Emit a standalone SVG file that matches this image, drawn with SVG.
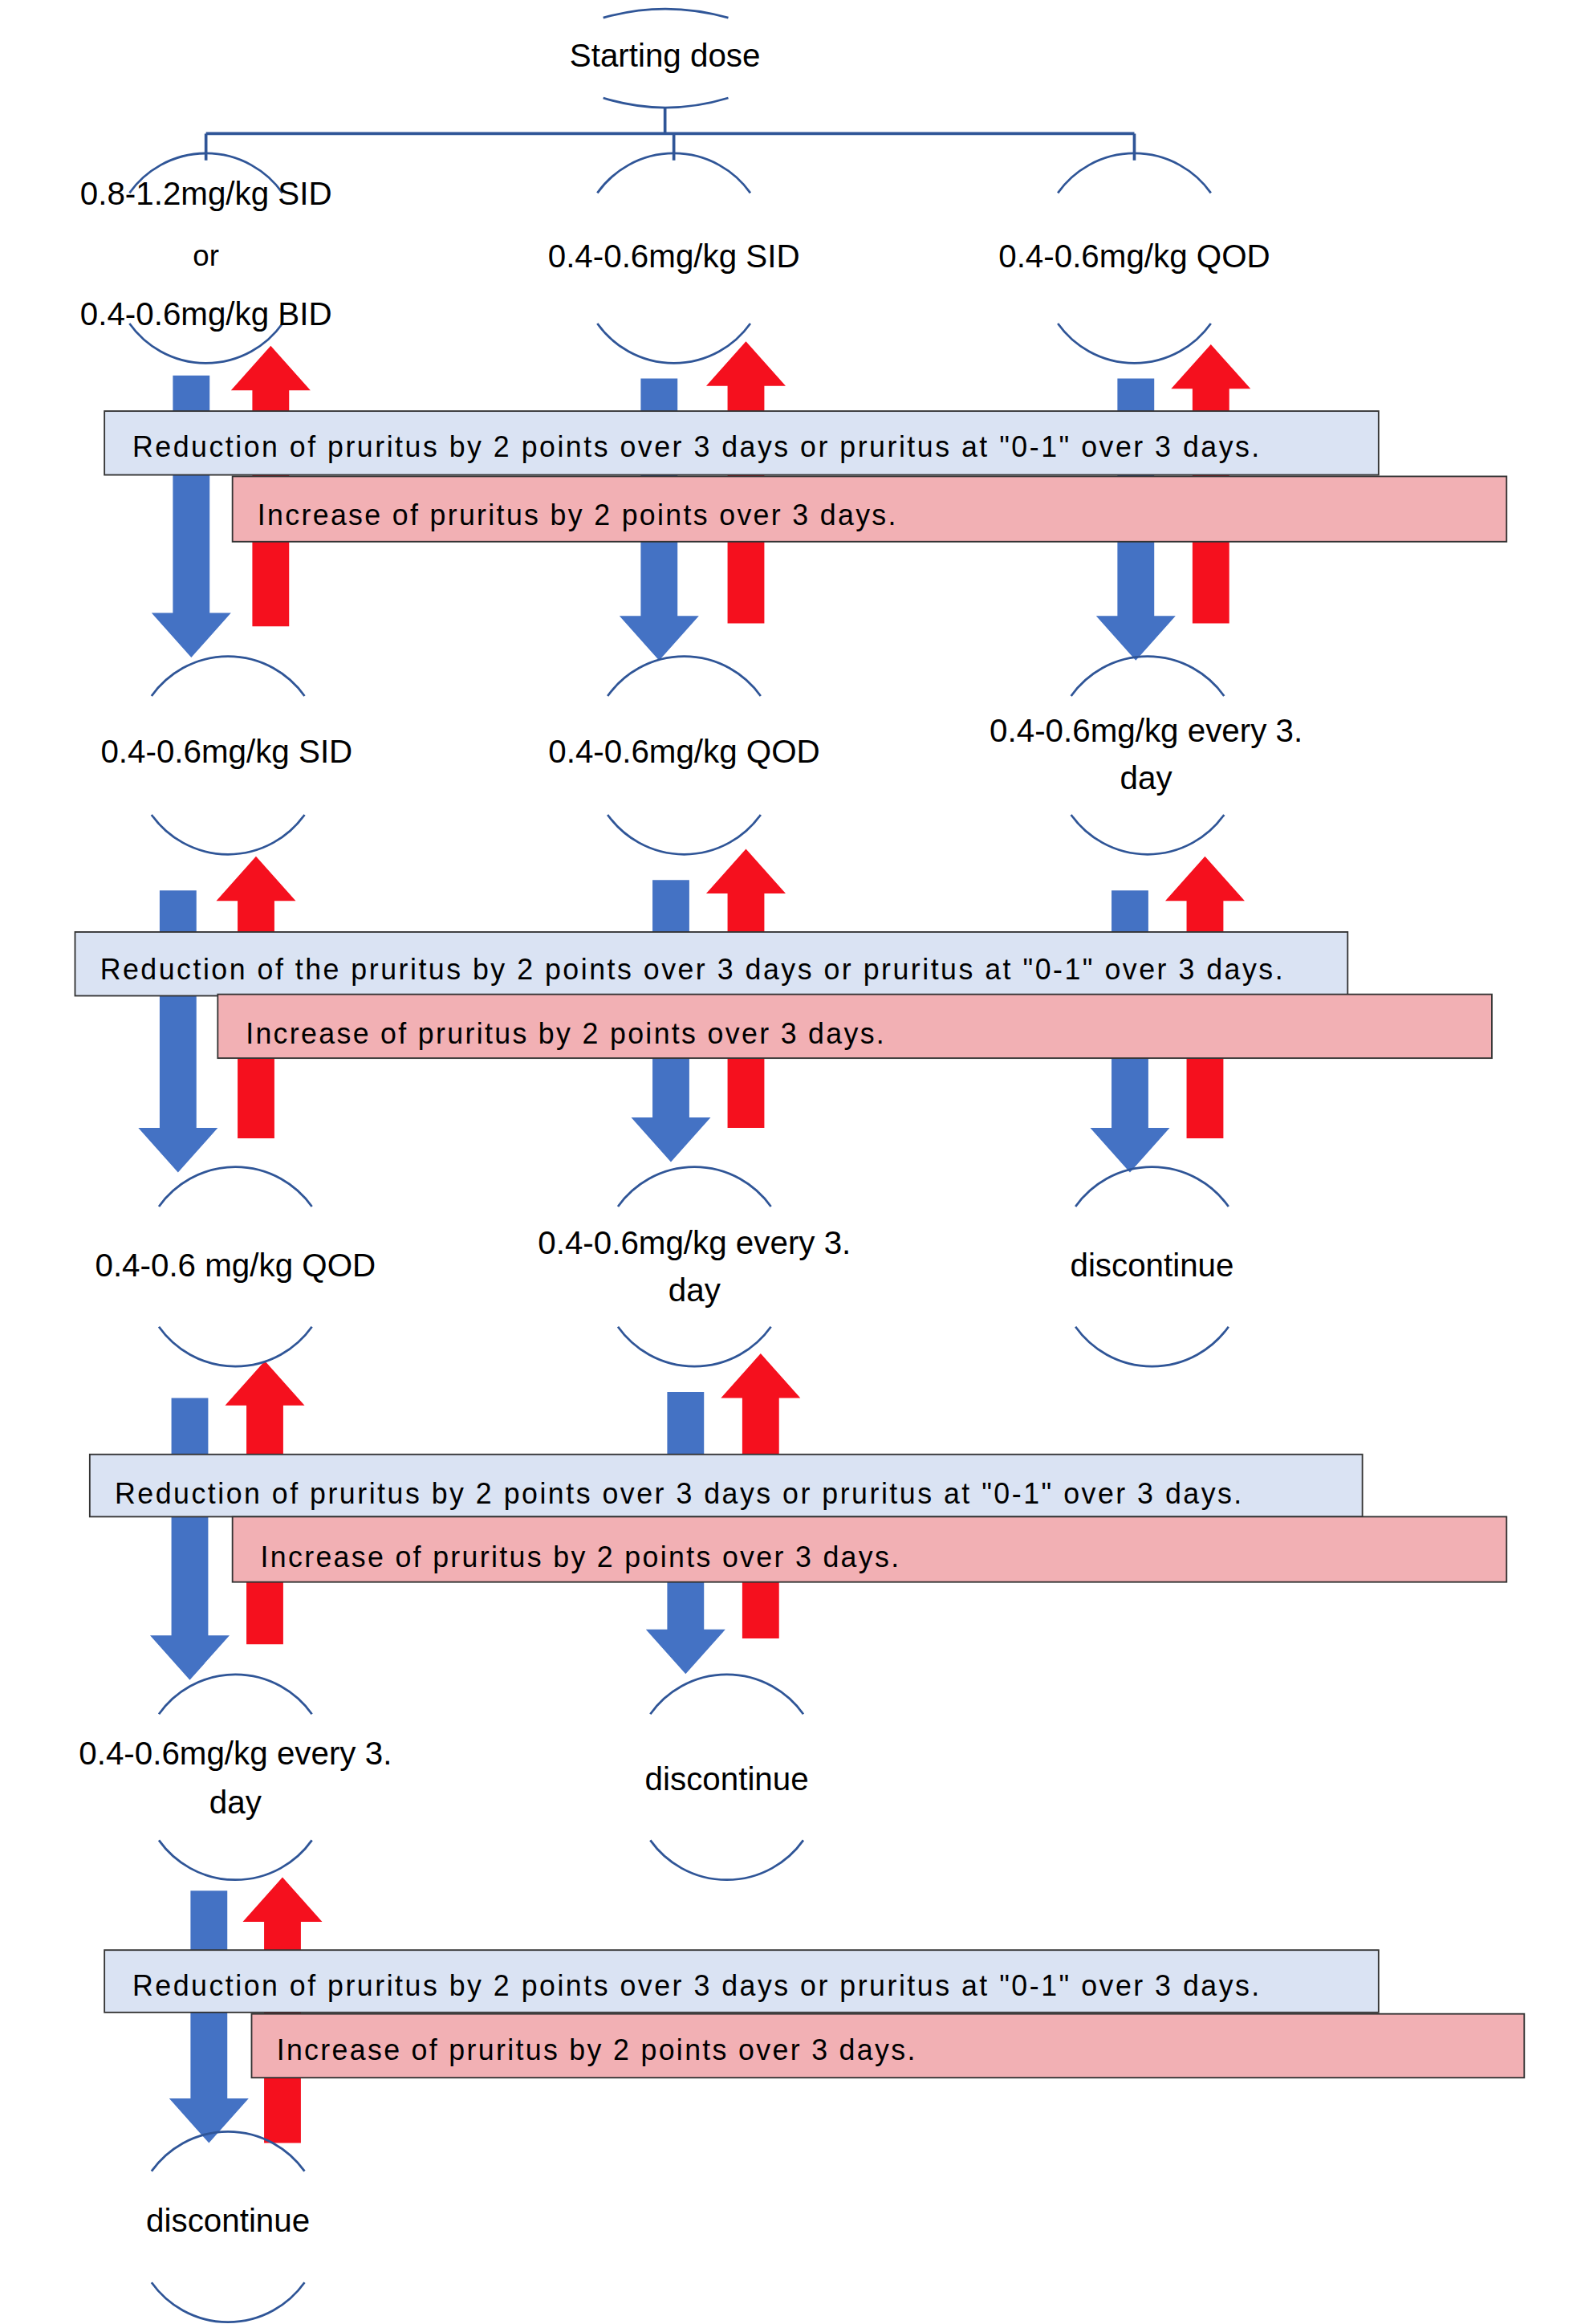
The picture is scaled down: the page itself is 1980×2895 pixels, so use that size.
<svg xmlns="http://www.w3.org/2000/svg" width="1980" height="2895" viewBox="0 0 1980 2895">
<style>
.arc{fill:none;stroke:#2F5597;stroke-width:1.5}
.ln{fill:none;stroke:#2F5597;stroke-width:2}
.bl{fill:#4472C4}
.rd{fill:#F5101E}
.bb{fill:#DAE3F3;stroke:#333;stroke-width:1}
.pb{fill:#F2B0B4;stroke:#333;stroke-width:1}
text{font-family:"Liberation Sans",Arial,sans-serif;fill:#000}
.n{font-size:22px;text-anchor:middle}
.b{font-size:19.5px}
</style>
<rect width="1980" height="2895" fill="#fff"/>
<g transform="scale(1.8333 1.8487)">
<g id="connectors">
<path class="ln" d="M452,73 V90 M140,90 H771 M140,90 V108 M458,90 V108 M771,90 V108"/>
<polygon class="bl" points="117.5,253 142.5,253 142.5,413 157,413 130,443 103,413 117.5,413"/>
<polygon class="rd" points="184,233 211,263 196.5,263 196.5,422 171.5,422 171.5,263 157,263"/>
<polygon class="bl" points="435.5,255 460.5,255 460.5,415 475,415 448,445 421,415 435.5,415"/>
<polygon class="rd" points="507,230 534,260 519.5,260 519.5,420 494.5,420 494.5,260 480,260"/>
<polygon class="bl" points="759.5,255 784.5,255 784.5,415 799,415 772,445 745,415 759.5,415"/>
<polygon class="rd" points="823,232 850,262 835.5,262 835.5,420 810.5,420 810.5,262 796,262"/>
<polygon class="bl" points="108.5,600 133.5,600 133.5,760 148,760 121,790 94,760 108.5,760"/>
<polygon class="rd" points="174,577 201,607 186.5,607 186.5,767 161.5,767 161.5,607 147,607"/>
<polygon class="bl" points="443.5,593 468.5,593 468.5,753 483,753 456,783 429,753 443.5,753"/>
<polygon class="rd" points="507,572 534,602 519.5,602 519.5,760 494.5,760 494.5,602 480,602"/>
<polygon class="bl" points="755.5,600 780.5,600 780.5,760 795,760 768,790 741,760 755.5,760"/>
<polygon class="rd" points="819,577 846,607 831.5,607 831.5,767 806.5,767 806.5,607 792,607"/>
<polygon class="bl" points="116.5,942 141.5,942 141.5,1102 156,1102 129,1132 102,1102 116.5,1102"/>
<polygon class="rd" points="180,917 207,947 192.5,947 192.5,1108 167.5,1108 167.5,947 153,947"/>
<polygon class="bl" points="453.5,938 478.5,938 478.5,1098 493,1098 466,1128 439,1098 453.5,1098"/>
<polygon class="rd" points="517,912 544,942 529.5,942 529.5,1104 504.5,1104 504.5,942 490,942"/>
<polygon class="bl" points="129.5,1274 154.5,1274 154.5,1414 169,1414 142,1444 115,1414 129.5,1414"/>
<polygon class="rd" points="192,1265 219,1295 204.5,1295 204.5,1444 179.5,1444 179.5,1295 165,1295"/>
</g>
<g id="cond1">
<rect class="bb" x="71" y="277" width="866" height="43"/>
<text class="b" x="90" y="308" textLength="766">Reduction of pruritus by 2 points over 3 days or pruritus at "0-1" over 3 days.</text>
<rect class="pb" x="158" y="321" width="866" height="44"/>
<text class="b" x="175" y="354" textLength="434">Increase of pruritus by 2 points over 3 days.</text>
</g>
<g id="cond2">
<rect class="bb" x="51" y="628" width="865" height="43"/>
<text class="b" x="68" y="660" textLength="804">Reduction of the pruritus by 2 points over 3 days or pruritus at "0-1" over 3 days.</text>
<rect class="pb" x="148" y="670" width="866" height="43"/>
<text class="b" x="167" y="703" textLength="434">Increase of pruritus by 2 points over 3 days.</text>
</g>
<g id="cond3">
<rect class="bb" x="61" y="980" width="865" height="42"/>
<text class="b" x="78" y="1013" textLength="766">Reduction of pruritus by 2 points over 3 days or pruritus at "0-1" over 3 days.</text>
<rect class="pb" x="158" y="1022" width="866" height="44"/>
<text class="b" x="177" y="1056" textLength="434">Increase of pruritus by 2 points over 3 days.</text>
</g>
<g id="cond4">
<rect class="bb" x="71" y="1314" width="866" height="42"/>
<text class="b" x="90" y="1345" textLength="766">Reduction of pruritus by 2 points over 3 days or pruritus at "0-1" over 3 days.</text>
<rect class="pb" x="171" y="1357" width="865" height="43"/>
<text class="b" x="188" y="1388" textLength="434">Increase of pruritus by 2 points over 3 days.</text>
</g>
<g id="start">
<path class="arc" d="M410,12 Q452,0 495,12 M410,66 Q452,79 495,66"/>
<text class="n" x="452" y="45">Starting dose</text>
</g>
<g id="n1a">
<path class="arc" d="M88,130 A64 64 0 0 1 192,130 M88,218 A64 64 0 0 0 192,218"/>
<text class="n" x="140" y="138">0.8-1.2mg/kg SID</text>
<text class="n" x="140" y="179" style="font-size:20px">or</text>
<text class="n" x="140" y="219">0.4-0.6mg/kg BID</text>
</g>
<g id="n1b">
<path class="arc" d="M406,130 A64 64 0 0 1 510,130 M406,218 A64 64 0 0 0 510,218"/>
<text class="n" x="458" y="180">0.4-0.6mg/kg SID</text>
</g>
<g id="n1c">
<path class="arc" d="M719,130 A64 64 0 0 1 823,130 M719,218 A64 64 0 0 0 823,218"/>
<text class="n" x="771" y="180">0.4-0.6mg/kg QOD</text>
</g>
<g id="n2a">
<path class="arc" d="M103,469 A64 64 0 0 1 207,469 M103,549 A64 64 0 0 0 207,549"/>
<text class="n" x="154" y="514">0.4-0.6mg/kg SID</text>
</g>
<g id="n2b">
<path class="arc" d="M413,469 A64 64 0 0 1 517,469 M413,549 A64 64 0 0 0 517,549"/>
<text class="n" x="465" y="514">0.4-0.6mg/kg QOD</text>
</g>
<g id="n2c">
<path class="arc" d="M728,469 A64 64 0 0 1 832,469 M728,549 A64 64 0 0 0 832,549"/>
<text class="n" x="779" y="500">0.4-0.6mg/kg every 3.</text>
<text class="n" x="779" y="532">day</text>
</g>
<g id="n3a">
<path class="arc" d="M108,813 A64 64 0 0 1 212,813 M108,894 A64 64 0 0 0 212,894"/>
<text class="n" x="160" y="860">0.4-0.6 mg/kg QOD</text>
</g>
<g id="n3b">
<path class="arc" d="M420,813 A64 64 0 0 1 524,813 M420,894 A64 64 0 0 0 524,894"/>
<text class="n" x="472" y="845">0.4-0.6mg/kg every 3.</text>
<text class="n" x="472" y="877">day</text>
</g>
<g id="n3c">
<path class="arc" d="M731,813 A64 64 0 0 1 835,813 M731,894 A64 64 0 0 0 835,894"/>
<text class="n" x="783" y="860">discontinue</text>
</g>
<g id="n4a">
<path class="arc" d="M108,1155 A64 64 0 0 1 212,1155 M108,1240 A64 64 0 0 0 212,1240"/>
<text class="n" x="160" y="1189">0.4-0.6mg/kg every 3.</text>
<text class="n" x="160" y="1222">day</text>
</g>
<g id="n4b">
<path class="arc" d="M442,1155 A64 64 0 0 1 546,1155 M442,1240 A64 64 0 0 0 546,1240"/>
<text class="n" x="494" y="1206">discontinue</text>
</g>
<g id="n5">
<path class="arc" d="M103,1463 A64 64 0 0 1 207,1463 M103,1538 A64 64 0 0 0 207,1538"/>
<text class="n" x="155" y="1504">discontinue</text>
</g>
</g>
</svg>
